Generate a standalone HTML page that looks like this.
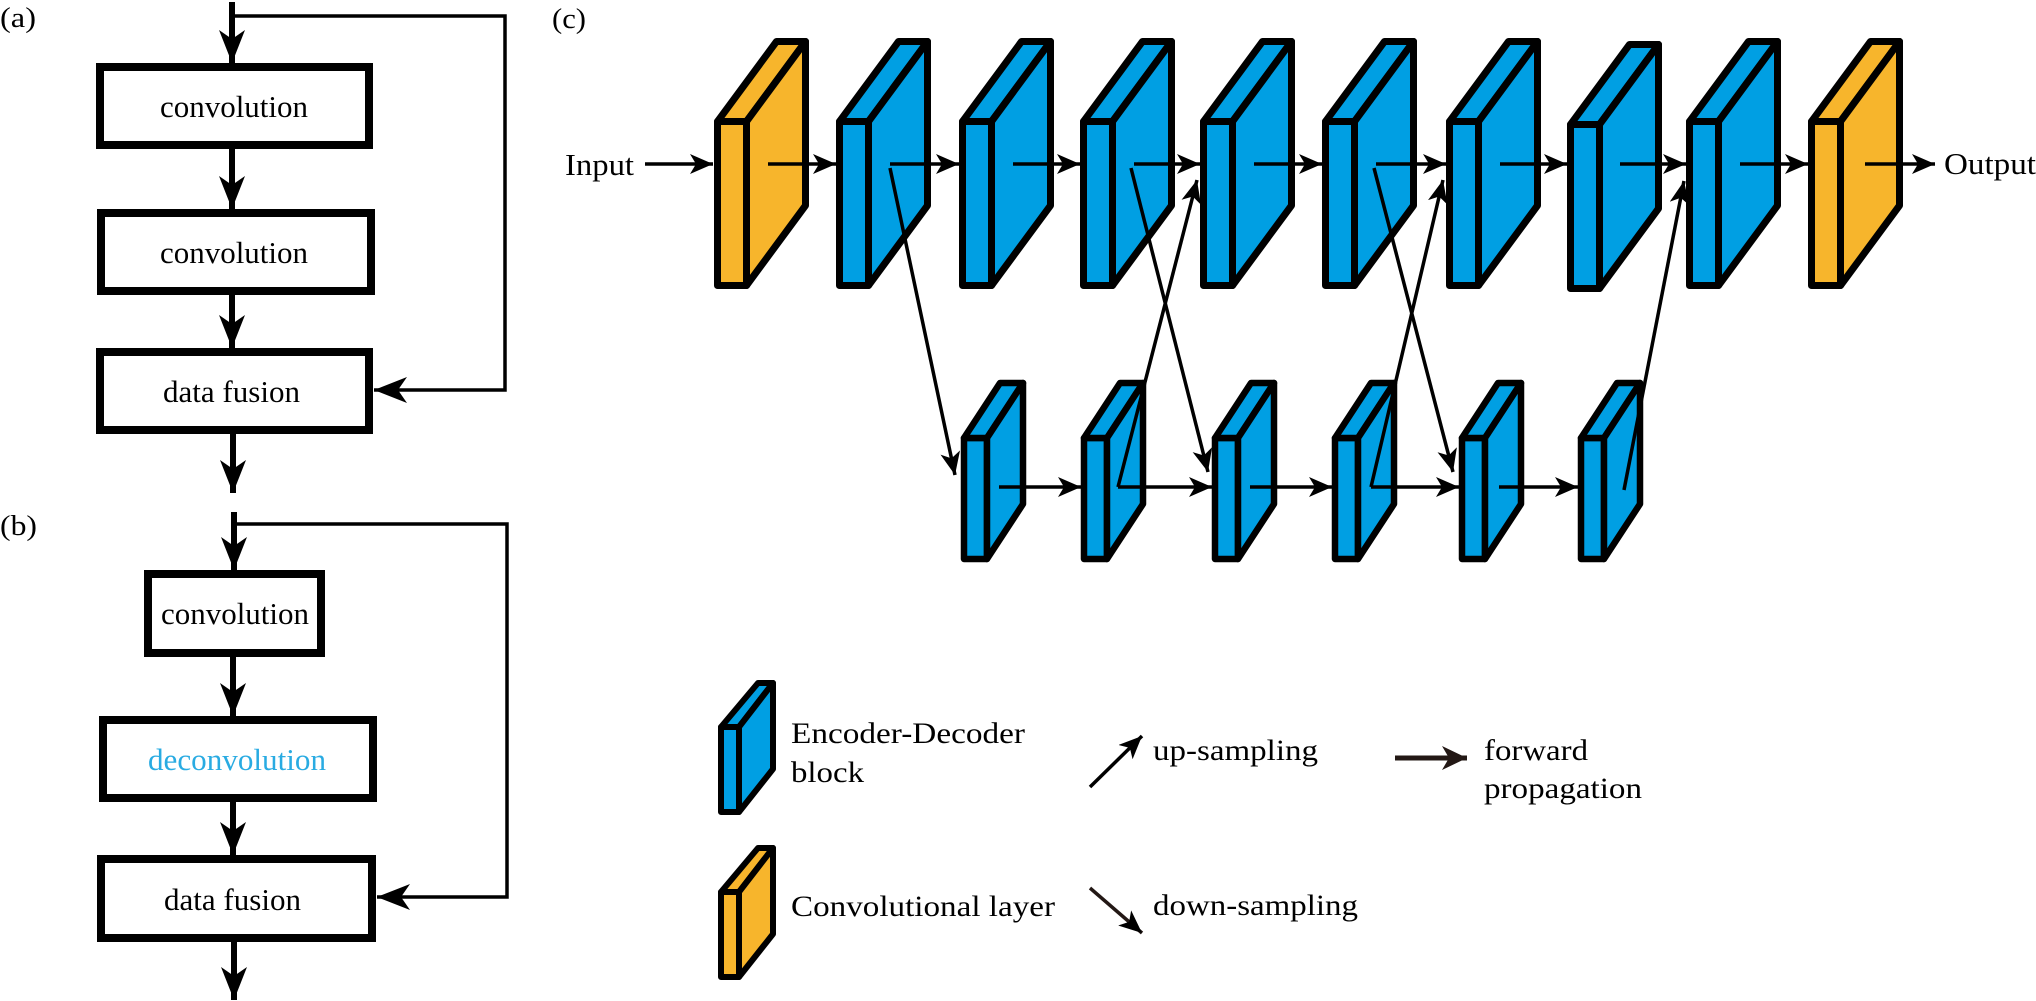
<!DOCTYPE html>
<html><head><meta charset="utf-8"><style>
html,body{margin:0;padding:0;background:#fff;}
svg{display:block;}
text{font-family:"Liberation Serif","Times New Roman",Times,serif;fill:#000;}
</style></head><body>
<svg width="2036" height="1001" viewBox="0 0 2036 1001" xmlns="http://www.w3.org/2000/svg">
<defs>
<marker id="big" markerUnits="userSpaceOnUse" markerWidth="34" markerHeight="26" refX="33" refY="13" orient="auto" viewBox="0 0 34 26"><path d="M0,0 L33,13 L0,26 L9,13 Z" fill="#000"/></marker>
<marker id="sm" markerUnits="userSpaceOnUse" markerWidth="24" markerHeight="20" refX="23" refY="10" orient="auto" viewBox="0 0 24 20"><path d="M0,0 L23,10 L0,20 L6,10 Z" fill="#000"/></marker>
<marker id="lg" markerUnits="userSpaceOnUse" markerWidth="26" markerHeight="24" refX="25" refY="12" orient="auto" viewBox="0 0 26 24"><path d="M0,0 L25,12 L0,24 L7,12 Z" fill="#231815"/></marker>
<g id="tb" stroke="#000" stroke-width="7" stroke-linejoin="round">
<polygon points="3.5,3.5 32.5,3.5 32.5,167.5 3.5,167.5"/>
<polygon points="3.5,3.5 62.5,-76.5 91.5,-76.5 32.5,3.5"/>
<polygon points="32.5,3.5 91.5,-76.5 91.5,87.5 32.5,167.5"/>
</g>
<g id="lb" stroke="#000" stroke-width="6.5" stroke-linejoin="round">
<polygon points="3,3 26,3 26,124 3,124"/>
<polygon points="3,3 39,-52 62,-52 26,3"/>
<polygon points="26,3 62,-52 62,69 26,124"/>
</g>
<g id="gb" stroke="#000" stroke-width="6" stroke-linejoin="round">
<polygon points="3,3 21,3 21,88 3,88"/>
<polygon points="3,3 40,-41 55,-41 21,3"/>
<polygon points="21,3 55,-41 55,45 21,88"/>
</g>
</defs>

<!-- (a) -->
<text x="0" y="27" font-size="28" textLength="36" lengthAdjust="spacingAndGlyphs">(a)</text>
<line x1="232" y1="2" x2="232" y2="63" stroke="#000" stroke-width="6" marker-end="url(#big)"/>
<polyline points="232,16 505,16 505,390 374,390" fill="none" stroke="#000" stroke-width="3.5" marker-end="url(#big)"/>
<rect x="100" y="67" width="269" height="78" fill="#fff" stroke="#000" stroke-width="8"/>
<text x="160" y="117" font-size="31" textLength="148" lengthAdjust="spacingAndGlyphs">convolution</text>
<line x1="232" y1="149" x2="232" y2="209" stroke="#000" stroke-width="6" marker-end="url(#big)"/>
<rect x="101" y="213" width="270" height="78" fill="#fff" stroke="#000" stroke-width="8"/>
<text x="160" y="263" font-size="31" textLength="148" lengthAdjust="spacingAndGlyphs">convolution</text>
<line x1="232" y1="295" x2="232" y2="348" stroke="#000" stroke-width="6" marker-end="url(#big)"/>
<rect x="100" y="352" width="269" height="78" fill="#fff" stroke="#000" stroke-width="8"/>
<text x="163" y="402" font-size="31" textLength="137" lengthAdjust="spacingAndGlyphs">data fusion</text>
<line x1="233" y1="434" x2="233" y2="493" stroke="#000" stroke-width="6" marker-end="url(#big)"/>

<!-- (b) -->
<text x="0" y="535" font-size="28" textLength="37" lengthAdjust="spacingAndGlyphs">(b)</text>
<line x1="234" y1="512" x2="234" y2="570" stroke="#000" stroke-width="6" marker-end="url(#big)"/>
<polyline points="234,524 507,524 507,897 377,897" fill="none" stroke="#000" stroke-width="3.5" marker-end="url(#big)"/>
<rect x="148" y="574" width="173" height="79" fill="#fff" stroke="#000" stroke-width="8"/>
<text x="161" y="624" font-size="31" textLength="148" lengthAdjust="spacingAndGlyphs">convolution</text>
<line x1="233" y1="657" x2="233" y2="716" stroke="#000" stroke-width="6" marker-end="url(#big)"/>
<rect x="103" y="720" width="270" height="78" fill="#fff" stroke="#000" stroke-width="8"/>
<text x="148" y="770" font-size="31" textLength="178" lengthAdjust="spacingAndGlyphs" style="fill:#29abe2">deconvolution</text>
<line x1="233" y1="802" x2="233" y2="855" stroke="#000" stroke-width="6" marker-end="url(#big)"/>
<rect x="101" y="859" width="271" height="79" fill="#fff" stroke="#000" stroke-width="8"/>
<text x="164" y="910" font-size="31" textLength="137" lengthAdjust="spacingAndGlyphs">data fusion</text>
<line x1="234" y1="942" x2="234" y2="1000" stroke="#000" stroke-width="6" marker-end="url(#big)"/>

<!-- (c) -->
<text x="552" y="28" font-size="28" textLength="34" lengthAdjust="spacingAndGlyphs">(c)</text>
<text x="565" y="175" font-size="31" textLength="69" lengthAdjust="spacingAndGlyphs">Input</text>
<line x1="645" y1="164" x2="713" y2="164" stroke="#000" stroke-width="3.5" marker-end="url(#sm)"/>

<use href="#tb" x="714" y="118" fill="#f7b52c"/>
<use href="#tb" x="836" y="118" fill="#009fe3"/>
<use href="#tb" x="959" y="118" fill="#009fe3"/>
<use href="#tb" x="1080" y="118" fill="#009fe3"/>
<use href="#tb" x="1200" y="118" fill="#009fe3"/>
<use href="#tb" x="1322" y="118" fill="#009fe3"/>
<use href="#tb" x="1446" y="118" fill="#009fe3"/>
<use href="#tb" x="1567" y="121" fill="#009fe3"/>
<use href="#tb" x="1686" y="118" fill="#009fe3"/>
<use href="#tb" x="1808" y="118" fill="#f7b52c"/>

<use href="#lb" x="961" y="435" fill="#009fe3"/>
<use href="#lb" x="1081" y="435" fill="#009fe3"/>
<use href="#lb" x="1212" y="435" fill="#009fe3"/>
<use href="#lb" x="1332" y="435" fill="#009fe3"/>
<use href="#lb" x="1459" y="435" fill="#009fe3"/>
<use href="#lb" x="1578" y="435" fill="#009fe3"/>

<g stroke="#000" stroke-width="3.5" fill="none" marker-end="url(#sm)">
<line x1="768" y1="164" x2="836" y2="164"/>
<line x1="890" y1="164" x2="959" y2="164"/>
<line x1="1013" y1="164" x2="1080" y2="164"/>
<line x1="1134" y1="164" x2="1200" y2="164"/>
<line x1="1254" y1="164" x2="1322" y2="164"/>
<line x1="1376" y1="164" x2="1446" y2="164"/>
<line x1="1500" y1="164" x2="1567" y2="164"/>
<line x1="1620" y1="164" x2="1686" y2="164"/>
<line x1="1740" y1="164" x2="1808" y2="164"/>
<line x1="1865" y1="164" x2="1935" y2="164"/>

<line x1="999" y1="487" x2="1081" y2="487"/>
<polyline points="1118,487 1212,487"/>
<line x1="1250" y1="487" x2="1332" y2="487"/>
<polyline points="1371,487 1459,487"/>
<line x1="1499" y1="487" x2="1578" y2="487"/>

<line x1="890" y1="168" x2="955" y2="475"/>
<line x1="1131" y1="168" x2="1208" y2="472"/>
<line x1="1374" y1="168" x2="1453" y2="472"/>

<line x1="1118" y1="487" x2="1197" y2="180"/>
<line x1="1371" y1="487" x2="1443" y2="180"/>
<line x1="1624" y1="490" x2="1684" y2="181"/>
</g>
<text x="1944" y="174" font-size="31" textLength="92" lengthAdjust="spacingAndGlyphs">Output</text>

<!-- legend -->
<use href="#gb" x="718" y="724" fill="#009fe3"/>
<text x="791" y="743" font-size="30" textLength="234" lengthAdjust="spacingAndGlyphs">Encoder-Decoder</text>
<text x="791" y="782" font-size="30" textLength="73" lengthAdjust="spacingAndGlyphs">block</text>
<line x1="1090" y1="787" x2="1142" y2="736" stroke="#000" stroke-width="3.5" marker-end="url(#sm)"/>
<text x="1153" y="760" font-size="30" textLength="165" lengthAdjust="spacingAndGlyphs">up-sampling</text>
<line x1="1395" y1="758" x2="1467" y2="758" stroke="#231815" stroke-width="5" marker-end="url(#lg)"/>
<text x="1484" y="760" font-size="30" textLength="104" lengthAdjust="spacingAndGlyphs">forward</text>
<text x="1484" y="798" font-size="30" textLength="158" lengthAdjust="spacingAndGlyphs">propagation</text>

<use href="#gb" x="718" y="889" fill="#f7b52c"/>
<text x="791" y="916" font-size="30" textLength="264" lengthAdjust="spacingAndGlyphs">Convolutional layer</text>
<line x1="1090" y1="888" x2="1142" y2="933" stroke="#231815" stroke-width="3.5" marker-end="url(#sm)"/>
<text x="1153" y="915" font-size="30" textLength="205" lengthAdjust="spacingAndGlyphs">down-sampling</text>
</svg>
</body></html>
